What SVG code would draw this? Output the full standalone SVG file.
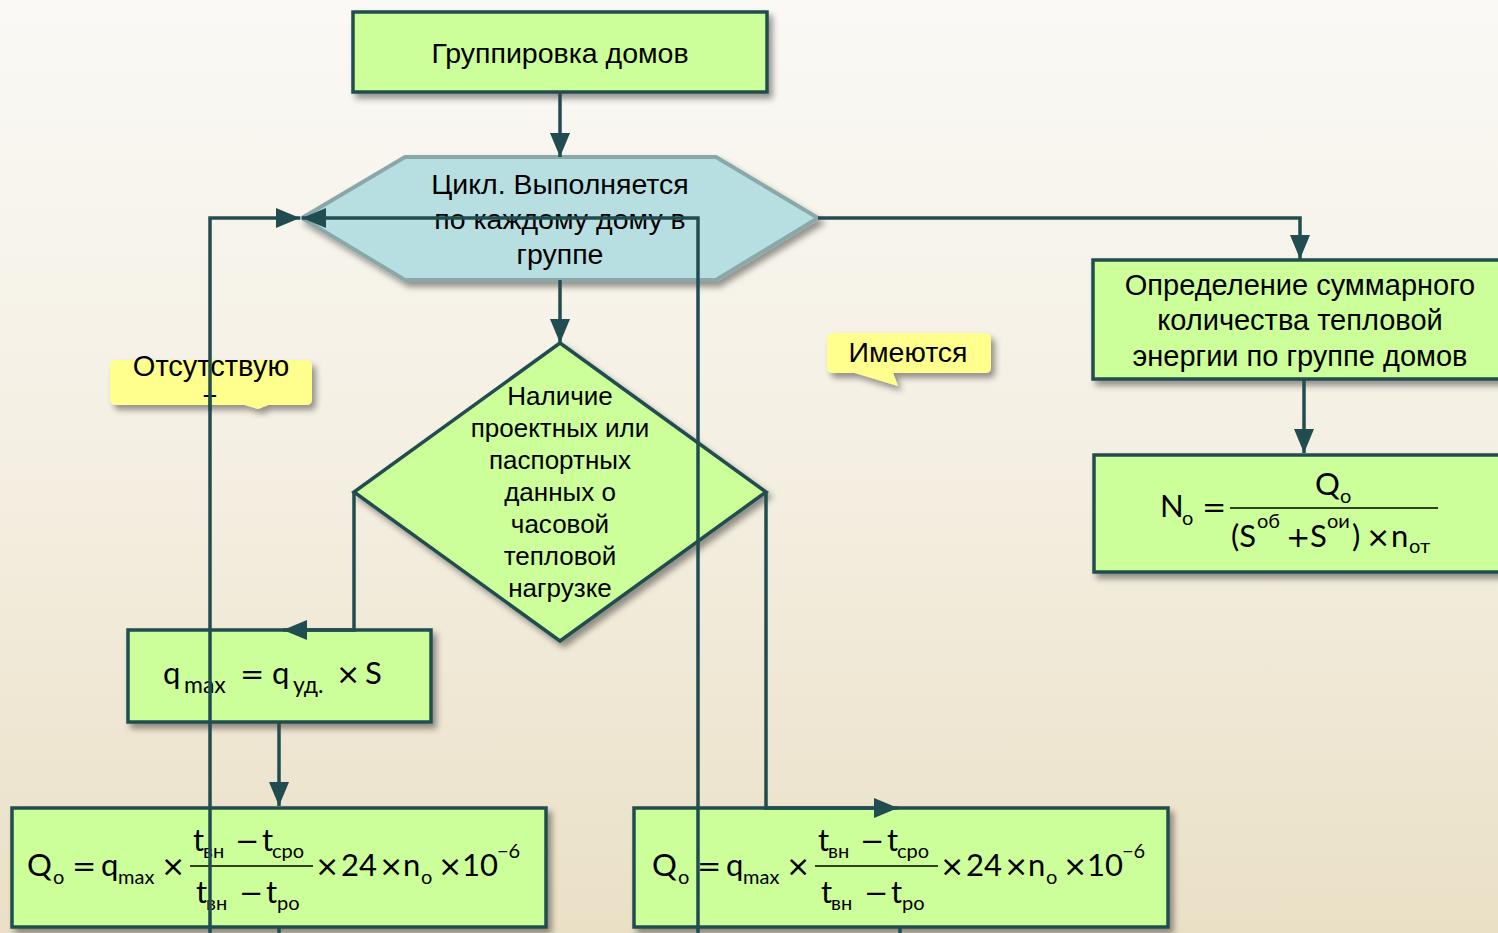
<svg xmlns="http://www.w3.org/2000/svg" width="1498" height="933" viewBox="0 0 1498 933">
<defs>
<linearGradient id="bg" x1="0" y1="0" x2="0" y2="1">
<stop offset="0" stop-color="#faf9f5"/>
<stop offset="0.5" stop-color="#f4efe2"/>
<stop offset="1" stop-color="#eae0c6"/>
</linearGradient>
<filter id="sh" x="-10%" y="-10%" width="125%" height="130%">
<feDropShadow dx="4" dy="5" stdDeviation="3" flood-color="#000" flood-opacity="0.4"/>
</filter>
<marker id="ah" markerUnits="userSpaceOnUse" markerWidth="26" markerHeight="20" refX="24" refY="10" orient="auto">
<path d="M0,0 L24,10 L0,20 z" fill="#214d50"/>
</marker>
<style>
.box{fill:#ccff99;stroke:#214d50;stroke-width:3.5}
.hex{fill:#b7dfe2;stroke:#8ba8a8;stroke-width:4}
.call{fill:#ffff8e}
.t{font-family:"Liberation Sans",Arial,sans-serif;fill:#000;text-anchor:middle}
.m{font-family:Lato,"Open Sans",sans-serif;fill:#000;font-size:31px}
.s{font-size:20px}
.o{font-family:"DejaVu Sans",sans-serif;font-size:29px}
.conn{fill:none;stroke:#214d50;stroke-width:3.5}
.fl{stroke:#000;stroke-width:1.5}
</style>
</defs>
<rect width="1498" height="933" fill="url(#bg)"/>

<g id="node-group">
<rect class="box" x="353" y="12" width="414" height="80" filter="url(#sh)"/>
<text class="t" x="560" y="63" font-size="28.5">Группировка домов</text>
</g>

<g id="node-loop">
<polygon class="hex" points="302,218 405,157 716,157 818,218 716,280 405,280" filter="url(#sh)"/>
<text class="t" x="560" y="194" font-size="28.5">Цикл. Выполняется</text>
<text class="t" x="560" y="229" font-size="28.5">по каждому дому в</text>
<text class="t" x="560" y="264" font-size="28.5">группе</text>
</g>

<g id="node-decision">
<polygon class="box" points="560,343 766,492 560,641 354,492" filter="url(#sh)"/>
<text class="t" font-size="26"><tspan x="560" y="405">Наличие</tspan><tspan x="560" y="437">проектных или</tspan><tspan x="560" y="469">паспортных</tspan><tspan x="560" y="501">данных о</tspan><tspan x="560" y="533">часовой</tspan><tspan x="560" y="565">тепловой</tspan><tspan x="560" y="597">нагрузке</tspan></text>
</g>

<g id="node-qmax">
<rect class="box" x="128" y="630" width="303" height="92" filter="url(#sh)"/>
<text class="m" font-size="34"><tspan x="163" y="684">q</tspan><tspan x="184" y="693" font-size="23">max</tspan><tspan class="o" font-size="34" x="240" y="684">=</tspan><tspan x="272" y="684">q</tspan><tspan x="293" y="693" font-size="23">уд.</tspan><tspan class="o" font-size="34" x="336" y="684">×</tspan><tspan x="365" y="684">S</tspan></text>
</g>

<g id="node-q-left">
<rect class="box" x="12" y="808" width="534" height="119" filter="url(#sh)"/>
<g>
<text class="m"><tspan x="27" y="876">Q</tspan><tspan class="s" x="53" y="884">o</tspan><tspan class="o" x="72" y="876">=</tspan><tspan x="101" y="876">q</tspan><tspan class="s" x="118" y="884">max</tspan><tspan class="o" x="161" y="876">×</tspan></text>
<line class="fl" x1="190" y1="866" x2="313" y2="866"/>
<text class="m"><tspan x="193" y="851">t</tspan><tspan class="s" x="203" y="858">вн</tspan><tspan class="o" x="235" y="851">−</tspan><tspan x="262" y="851">t</tspan><tspan class="s" x="272" y="858">сро</tspan></text>
<text class="m"><tspan x="196" y="903">t</tspan><tspan class="s" x="206" y="910">вн</tspan><tspan class="o" x="239" y="903">−</tspan><tspan x="266" y="903">t</tspan><tspan class="s" x="277" y="910">ро</tspan></text>
<text class="m"><tspan class="o" x="315" y="876">×</tspan><tspan x="341" y="876">24</tspan><tspan class="o" x="379" y="876">×</tspan><tspan x="403" y="876">n</tspan><tspan class="s" x="421" y="884">o</tspan><tspan class="o" x="438" y="876">×</tspan><tspan x="462" y="876">10</tspan><tspan class="s" x="497" y="858">−6</tspan></text>
</g>
</g>

<g id="node-q-right">
<rect class="box" x="634" y="808" width="534" height="119" filter="url(#sh)"/>
<g transform="translate(625,0)">
<text class="m"><tspan x="27" y="876">Q</tspan><tspan class="s" x="53" y="884">o</tspan><tspan class="o" x="72" y="876">=</tspan><tspan x="101" y="876">q</tspan><tspan class="s" x="118" y="884">max</tspan><tspan class="o" x="161" y="876">×</tspan></text>
<line class="fl" x1="190" y1="866" x2="313" y2="866"/>
<text class="m"><tspan x="193" y="851">t</tspan><tspan class="s" x="203" y="858">вн</tspan><tspan class="o" x="235" y="851">−</tspan><tspan x="262" y="851">t</tspan><tspan class="s" x="272" y="858">сро</tspan></text>
<text class="m"><tspan x="196" y="903">t</tspan><tspan class="s" x="206" y="910">вн</tspan><tspan class="o" x="239" y="903">−</tspan><tspan x="266" y="903">t</tspan><tspan class="s" x="277" y="910">ро</tspan></text>
<text class="m"><tspan class="o" x="315" y="876">×</tspan><tspan x="341" y="876">24</tspan><tspan class="o" x="379" y="876">×</tspan><tspan x="403" y="876">n</tspan><tspan class="s" x="421" y="884">o</tspan><tspan class="o" x="438" y="876">×</tspan><tspan x="462" y="876">10</tspan><tspan class="s" x="497" y="858">−6</tspan></text>
</g>
</g>

<g id="node-total">
<rect class="box" x="1093" y="260" width="420" height="119" filter="url(#sh)"/>
<text class="t" font-size="29"><tspan x="1300" y="295">Определение суммарного</tspan><tspan x="1300" y="330">количества тепловой</tspan><tspan x="1300" y="366">энергии по группе домов</tspan></text>
</g>

<g id="node-n">
<rect class="box" x="1094" y="455" width="420" height="117" filter="url(#sh)"/>
<text class="m"><tspan x="1160" y="517">N</tspan><tspan class="s" x="1182" y="525">o</tspan><tspan class="o" x="1202" y="517">=</tspan></text>
<line class="fl" x1="1230" y1="508" x2="1438" y2="508"/>
<text class="m"><tspan x="1315" y="495">Q</tspan><tspan class="s" x="1340" y="503">o</tspan></text>
<text class="m"><tspan x="1231" y="547">(S</tspan><tspan class="s" x="1257" y="528">об</tspan><tspan class="o" x="1286" y="547" font-size="27">+</tspan><tspan x="1310" y="547">S</tspan><tspan class="s" x="1327" y="528">ои</tspan><tspan x="1352" y="547">)</tspan><tspan class="o" x="1366" y="547" font-size="26">×</tspan><tspan x="1391" y="547">n</tspan><tspan class="s" x="1409" y="553">от</tspan></text>
</g>

<g id="label-absent">
<path class="call" d="M116,360 H306 Q312,360 312,366 V399 Q312,405 306,405 H268 L258,409 L245,405 H116 Q110,405 110,399 V366 Q110,360 116,360 z" filter="url(#sh)"/>
<text class="t" font-size="29"><tspan x="211" y="376">Отсутствую</tspan><tspan x="210" y="411">т</tspan></text>
</g>

<g id="label-present">
<path class="call" d="M833,333 H985 Q991,333 991,339 V367 Q991,373 985,373 H893 L898,386 L855,373 H833 Q827,373 827,367 V339 Q827,333 833,333 z" filter="url(#sh)"/>
<text class="t" x="908" y="362" font-size="28.5">Имеются</text>
</g>

<g id="connectors">
<path class="conn" d="M560,92 V157" marker-end="url(#ah)"/>
<path class="conn" d="M560,280 V343" marker-end="url(#ah)"/>
<path class="conn" d="M818,218 H1300 V259" marker-end="url(#ah)"/>
<path class="conn" d="M1304,379 V453" marker-end="url(#ah)"/>
<path class="conn" d="M354,492 V630 H283" marker-end="url(#ah)"/>
<path class="conn" d="M279,722 V806" marker-end="url(#ah)"/>
<path class="conn" d="M766,492 V808 H898" marker-end="url(#ah)"/>
<path class="conn" d="M210,940 V218 H300" marker-end="url(#ah)"/>
<path class="conn" d="M698,940 V218 H302" marker-end="url(#ah)"/>
<path class="conn" d="M279,927 V940"/>
<path class="conn" d="M900,927 V940"/>
</g>
</svg>
